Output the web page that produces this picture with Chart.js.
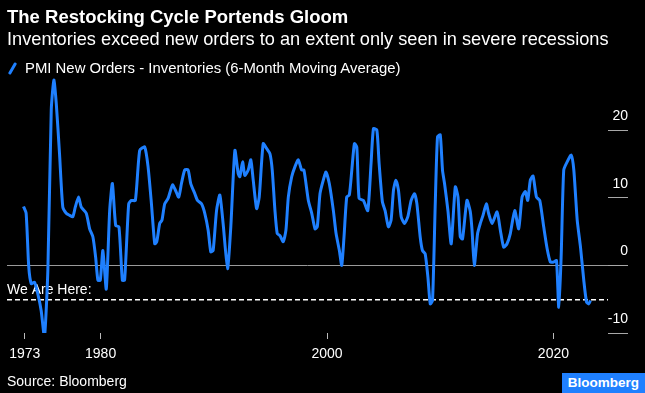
<!DOCTYPE html>
<html>
<head>
<meta charset="utf-8">
<script src="https://cdn.jsdelivr.net/npm/chart.js@4"></script>
<style>
  html, body { margin: 0; padding: 0; background: #000; }
  body { width: 645px; height: 393px; position: relative; overflow: hidden; font-family: "Liberation Sans", Arial, sans-serif; color: #fff; }
  #chart { position: absolute; left: 0; top: 0; }
  .title { position: absolute; left: 7px; top: 6px; font-size: 18.5px; font-weight: bold; line-height: 22px; white-space: nowrap; }
  .subtitle { position: absolute; left: 7px; top: 28px; font-size: 18.2px; line-height: 22px; white-space: nowrap; }
  .legend { position: absolute; left: 7px; top: 59px; font-size: 14.9px; line-height: 18px; white-space: nowrap; }
  .legend .swatch { display: inline-block; width: 3px; height: 13px; background: #1f80ff; transform: rotate(30deg); margin: 0 11px 0 4px; vertical-align: -2px; border-radius: 1px; }
  .source { position: absolute; left: 7px; top: 373px; font-size: 14px; line-height: 17px; }
  .badge { position: absolute; left: 562px; top: 373px; width: 83px; height: 20px; background: #1f80ff; font-weight: bold; font-size: 13.5px; line-height: 20px; text-align: center; }
</style>
</head>
<body>
<canvas id="chart" width="645" height="393"></canvas>
<div class="title">The Restocking Cycle Portends Gloom</div>
<div class="subtitle">Inventories exceed new orders to an extent only seen in severe recessions</div>
<div class="legend"><span class="swatch"></span>PMI New Orders - Inventories (6-Month Moving Average)</div>
<div class="source">Source: Bloomberg</div>
<div class="badge">Bloomberg</div>
<script>
// PMI new orders minus inventories, 6-month moving average
const years = [
  1973.19, 1973.42, 1973.65, 1973.87, 1974.16, 1974.45, 1974.75, 1975.04, 1975.34, 1975.64,
  1975.87, 1976.08, 1976.37, 1976.66, 1976.96, 1977.26, 1977.55, 1977.76, 1978.05, 1978.29,
  1978.73, 1979.03, 1979.32, 1979.56, 1979.76, 1979.97, 1980.20, 1980.50, 1980.80, 1981.04,
  1981.33, 1981.62, 1981.92, 1982.12, 1982.48, 1982.72, 1983.07, 1983.45, 1983.89, 1984.19,
  1984.49, 1984.78, 1984.96, 1985.22, 1985.42, 1985.66, 1985.96, 1986.35, 1986.61, 1986.90,
  1987.14, 1987.43, 1987.73, 1987.96, 1988.32, 1988.56, 1988.91, 1989.20, 1989.50, 1989.73,
  1989.94, 1990.24, 1990.53, 1990.82, 1991.21, 1991.50, 1991.86, 1992.15, 1992.30, 1992.54,
  1992.74, 1993.04, 1993.27, 1993.48, 1993.78, 1994.01, 1994.36, 1994.66, 1994.96, 1995.16,
  1995.40, 1995.60, 1995.84, 1996.13, 1996.37, 1996.58, 1996.88, 1997.17, 1997.46, 1997.76,
  1997.96, 1998.35, 1998.65, 1998.94, 1999.14, 1999.38, 1999.67, 1999.91, 2000.20, 2000.56,
  2000.80, 2001.09, 2001.30, 2001.50, 2001.74, 2001.97, 2002.19, 2002.42, 2002.63, 2002.83,
  2003.21, 2003.60, 2003.89, 2004.10, 2004.40, 2004.60, 2004.89, 2005.13, 2005.42, 2005.66,
  2005.87, 2006.08, 2006.31, 2006.55, 2006.84, 2007.14, 2007.43, 2007.73, 2007.94, 2008.23,
  2008.43, 2008.67, 2008.91, 2009.12, 2009.32, 2009.56, 2009.76, 2010.00, 2010.20, 2010.38,
  2010.68, 2010.97, 2011.33, 2011.57, 2011.77, 2011.97, 2012.36, 2012.65, 2012.81, 2013.01,
  2013.30, 2013.54, 2013.78, 2014.07, 2014.27, 2014.58, 2015.02, 2015.31, 2015.60, 2015.90,
  2016.19, 2016.58, 2016.93, 2017.23, 2017.52, 2017.73, 2017.96, 2018.20, 2018.50, 2018.79,
  2019.14, 2019.44, 2019.73, 2020.03, 2020.27, 2020.47, 2020.68, 2020.91, 2021.21, 2021.57,
  2021.80, 2022.10, 2022.39, 2022.68, 2022.92, 2023.12, 2023.27
];
const values = [
  8.7, 7.7, -0.2, -2.7, -2.5, -4.2, -6.7, -10.6, -0.7, 23.0,
  27.4, 24.0, 16.5, 8.6, 7.7, 7.4, 7.2, 8.6, 10.1, 8.6,
  7.7, 5.4, 4.2, 1.2, -2.2, -2.2, 2.2, -3.5, 8.1, 12.1,
  5.9, 5.7, -2.2, -2.2, 9.1, 9.6, 9.6, 17.0, 17.5, 14.6,
  9.1, 3.2, 3.5, 6.2, 6.7, 9.1, 9.9, 11.9, 11.1, 10.1,
  12.1, 14.1, 14.1, 12.1, 10.6, 9.6, 9.1, 7.7, 5.2, 2.0,
  2.2, 8.1, 10.4, 6.2, -0.5, 5.7, 17.0, 13.6, 13.1, 15.3,
  13.3, 14.1, 15.6, 12.6, 8.4, 10.1, 18.0, 17.3, 16.5, 14.1,
  8.1, 4.7, 4.4, 3.5, 5.2, 10.1, 13.1, 14.6, 15.6, 14.1,
  14.1, 9.6, 7.7, 5.4, 5.7, 10.6, 12.6, 13.8, 12.1, 8.1,
  4.7, 2.2, 0.0, 4.2, 10.1, 10.4, 14.1, 18.0, 17.5, 9.9,
  9.6, 8.1, 15.1, 20.2, 20.0, 15.1, 9.4, 8.1, 5.7, 6.7,
  11.1, 12.6, 11.1, 7.2, 6.2, 7.2, 9.6, 10.6, 9.1, 4.2,
  2.2, 1.7, -1.7, -5.7, -5.2, 9.1, 19.0, 19.3, 14.1, 12.1,
  8.1, 3.2, 11.6, 10.1, 4.2, 3.9, 9.6, 8.0, 5.2, 0.0,
  4.7, 6.2, 7.4, 9.1, 7.7, 6.2, 7.9, 5.2, 2.7, 3.2,
  4.7, 8.1, 5.4, 10.1, 10.9, 9.6, 12.6, 13.2, 10.1, 9.6,
  5.7, 2.5, 0.5, 0.5, 0.7, -6.2, 1.2, 14.1, 15.3, 16.3,
  14.1, 6.7, 2.7, -2.2, -5.4, -5.7, -5.2
];
const hereLevel = -5.1;
const xTickYears = [1973.3, 1980, 2000, 2020];
const xTickLabels = ["1973", "1980", "2000", "2020"];
const yTickValues = [-10, 0, 10, 20];
const xRange = [1971.73, 2024.82];
const yRange = [-10, 28];

const FONT = '"Liberation Sans", Arial, sans-serif';
const BLUE = "#1f80ff";

const hereLabel = {
  id: "hereLabel",
  beforeDatasetsDraw(chart) {
    const { ctx, chartArea, scales } = chart;
    const y = scales.y.getPixelForValue(hereLevel);
    ctx.save();
    ctx.font = "14px " + FONT;
    ctx.fillStyle = "#fff";
    ctx.textBaseline = "middle";
    ctx.fillText("We Are Here:", chartArea.left, y - 10);
    ctx.restore();
  },
};

new Chart(document.getElementById("chart"), {
  type: "line",
  data: {
    datasets: [
      {
        data: years.map((x, i) => ({ x: x, y: values[i] })),
        borderColor: BLUE,
        borderWidth: 3,
        pointRadius: 0,
        tension: 0.2,
      },
      {
        data: xRange.map((x) => ({ x: x, y: hereLevel })),
        borderColor: "#fff",
        borderWidth: 1.5,
        borderDash: [5, 3],
        pointRadius: 0,
      },
    ],
  },
  options: {
    responsive: false,
    animation: false,
    devicePixelRatio: 1,
    layout: { padding: { left: 7, right: 17, top: 76, bottom: 34 } },
    plugins: {
      legend: { display: false },
      tooltip: { enabled: false },
    },
    scales: {
      x: {
        type: "linear",
        min: xRange[0],
        max: xRange[1],
        afterBuildTicks: (scale) => {
          scale.ticks = xTickYears.map((v) => ({ value: v }));
        },
        afterFit: (scale) => {
          scale.height = 26;
        },
        border: { display: false },
        grid: { drawOnChartArea: false, drawTicks: true, tickLength: 6, tickColor: "#bbb" },
        ticks: {
          autoSkip: false,
          maxRotation: 0,
          padding: 7,
          color: "#fff",
          font: { family: FONT, size: 14 },
          callback: (v, i) => xTickLabels[i],
        },
      },
      y: {
        position: "right",
        min: yRange[0],
        max: yRange[1],
        afterBuildTicks: (scale) => {
          scale.ticks = yTickValues.map((v) => ({ value: v }));
        },
        afterFit: (scale) => {
          scale.width = 20;
        },
        border: { display: false },
        grid: {
          color: (c) => (c.tick && c.tick.value === 0 ? "#9a9a9a" : "transparent"),
          tickColor: "#a8a8a8",
          tickLength: 20,
          lineWidth: 1,
        },
        ticks: {
          crossAlign: "far",
          padding: 0,
          labelOffset: -14,
          color: "#fff",
          font: { family: FONT, size: 14 },
        },
      },
    },
  },
  plugins: [hereLabel],
});
</script>
</body>
</html>
